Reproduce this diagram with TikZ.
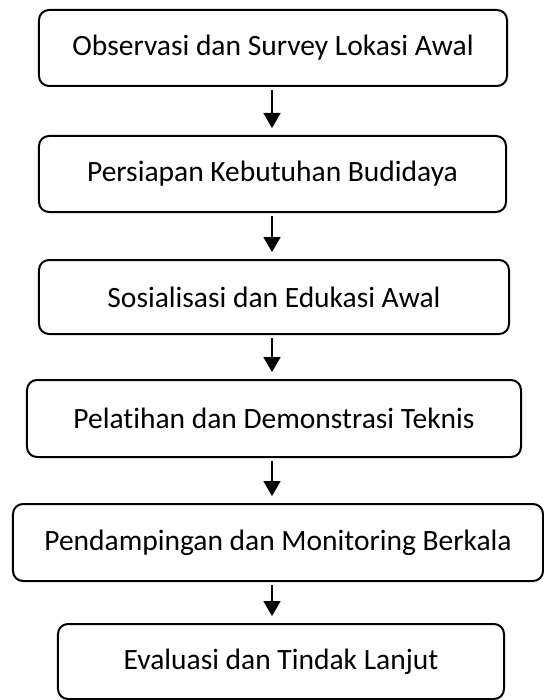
\documentclass[tikz,border=0pt]{standalone}
\usepackage{fontspec}
\setmainfont{Carlito}[Ligatures={NoCommon,NoRequired,NoContextual}]
\usetikzlibrary{arrows.meta}
\usetikzlibrary{calc}

\tikzset{
  stepbox/.style={draw, line width=2bp, rounded corners=10bp, inner sep=0pt,
    font=\fontsize{29.6}{35}\selectfont},
  flow/.style={draw, line width=1.8bp, -{Triangle[length=15bp,width=17bp]},
    shorten <=3bp, shorten >=7bp}
}

\begin{document}
\begin{tikzpicture}[x=1bp, y=-1bp]
  \useasboundingbox (0,0) rectangle (544,700);

  \node [stepbox, minimum width=468bp, minimum height=76bp] (obs)   at (273,48)    {Observasi dan Survey Lokasi Awal};
  \node [stepbox, minimum width=467bp, minimum height=76bp] (prep)  at (272.5,174) {Persiapan Kebutuhan Budidaya};
  \node [stepbox, minimum width=470bp, minimum height=74bp] (sos)   at (274,297)   {Sosialisasi dan Edukasi Awal};
  \node [stepbox, minimum width=494bp, minimum height=77bp] (train) at (274,418.5) {Pelatihan dan Demonstrasi Teknis};
  \node [stepbox, minimum width=530bp, minimum height=77bp] (mon)   at (278,542.5) {Pendampingan dan Monitoring Berkala};
  \node [stepbox, minimum width=446bp, minimum height=75bp] (eval)  at (281,661.5) {Evaluasi dan Tindak Lanjut};

  \coordinate (ax) at (272,0);

  \foreach \from/\to in {obs/prep, prep/sos, sos/train, train/mon, mon/eval}
    \draw [flow] (\from.south -| ax) -- (\to.north -| ax);

\end{tikzpicture}
\end{document}
